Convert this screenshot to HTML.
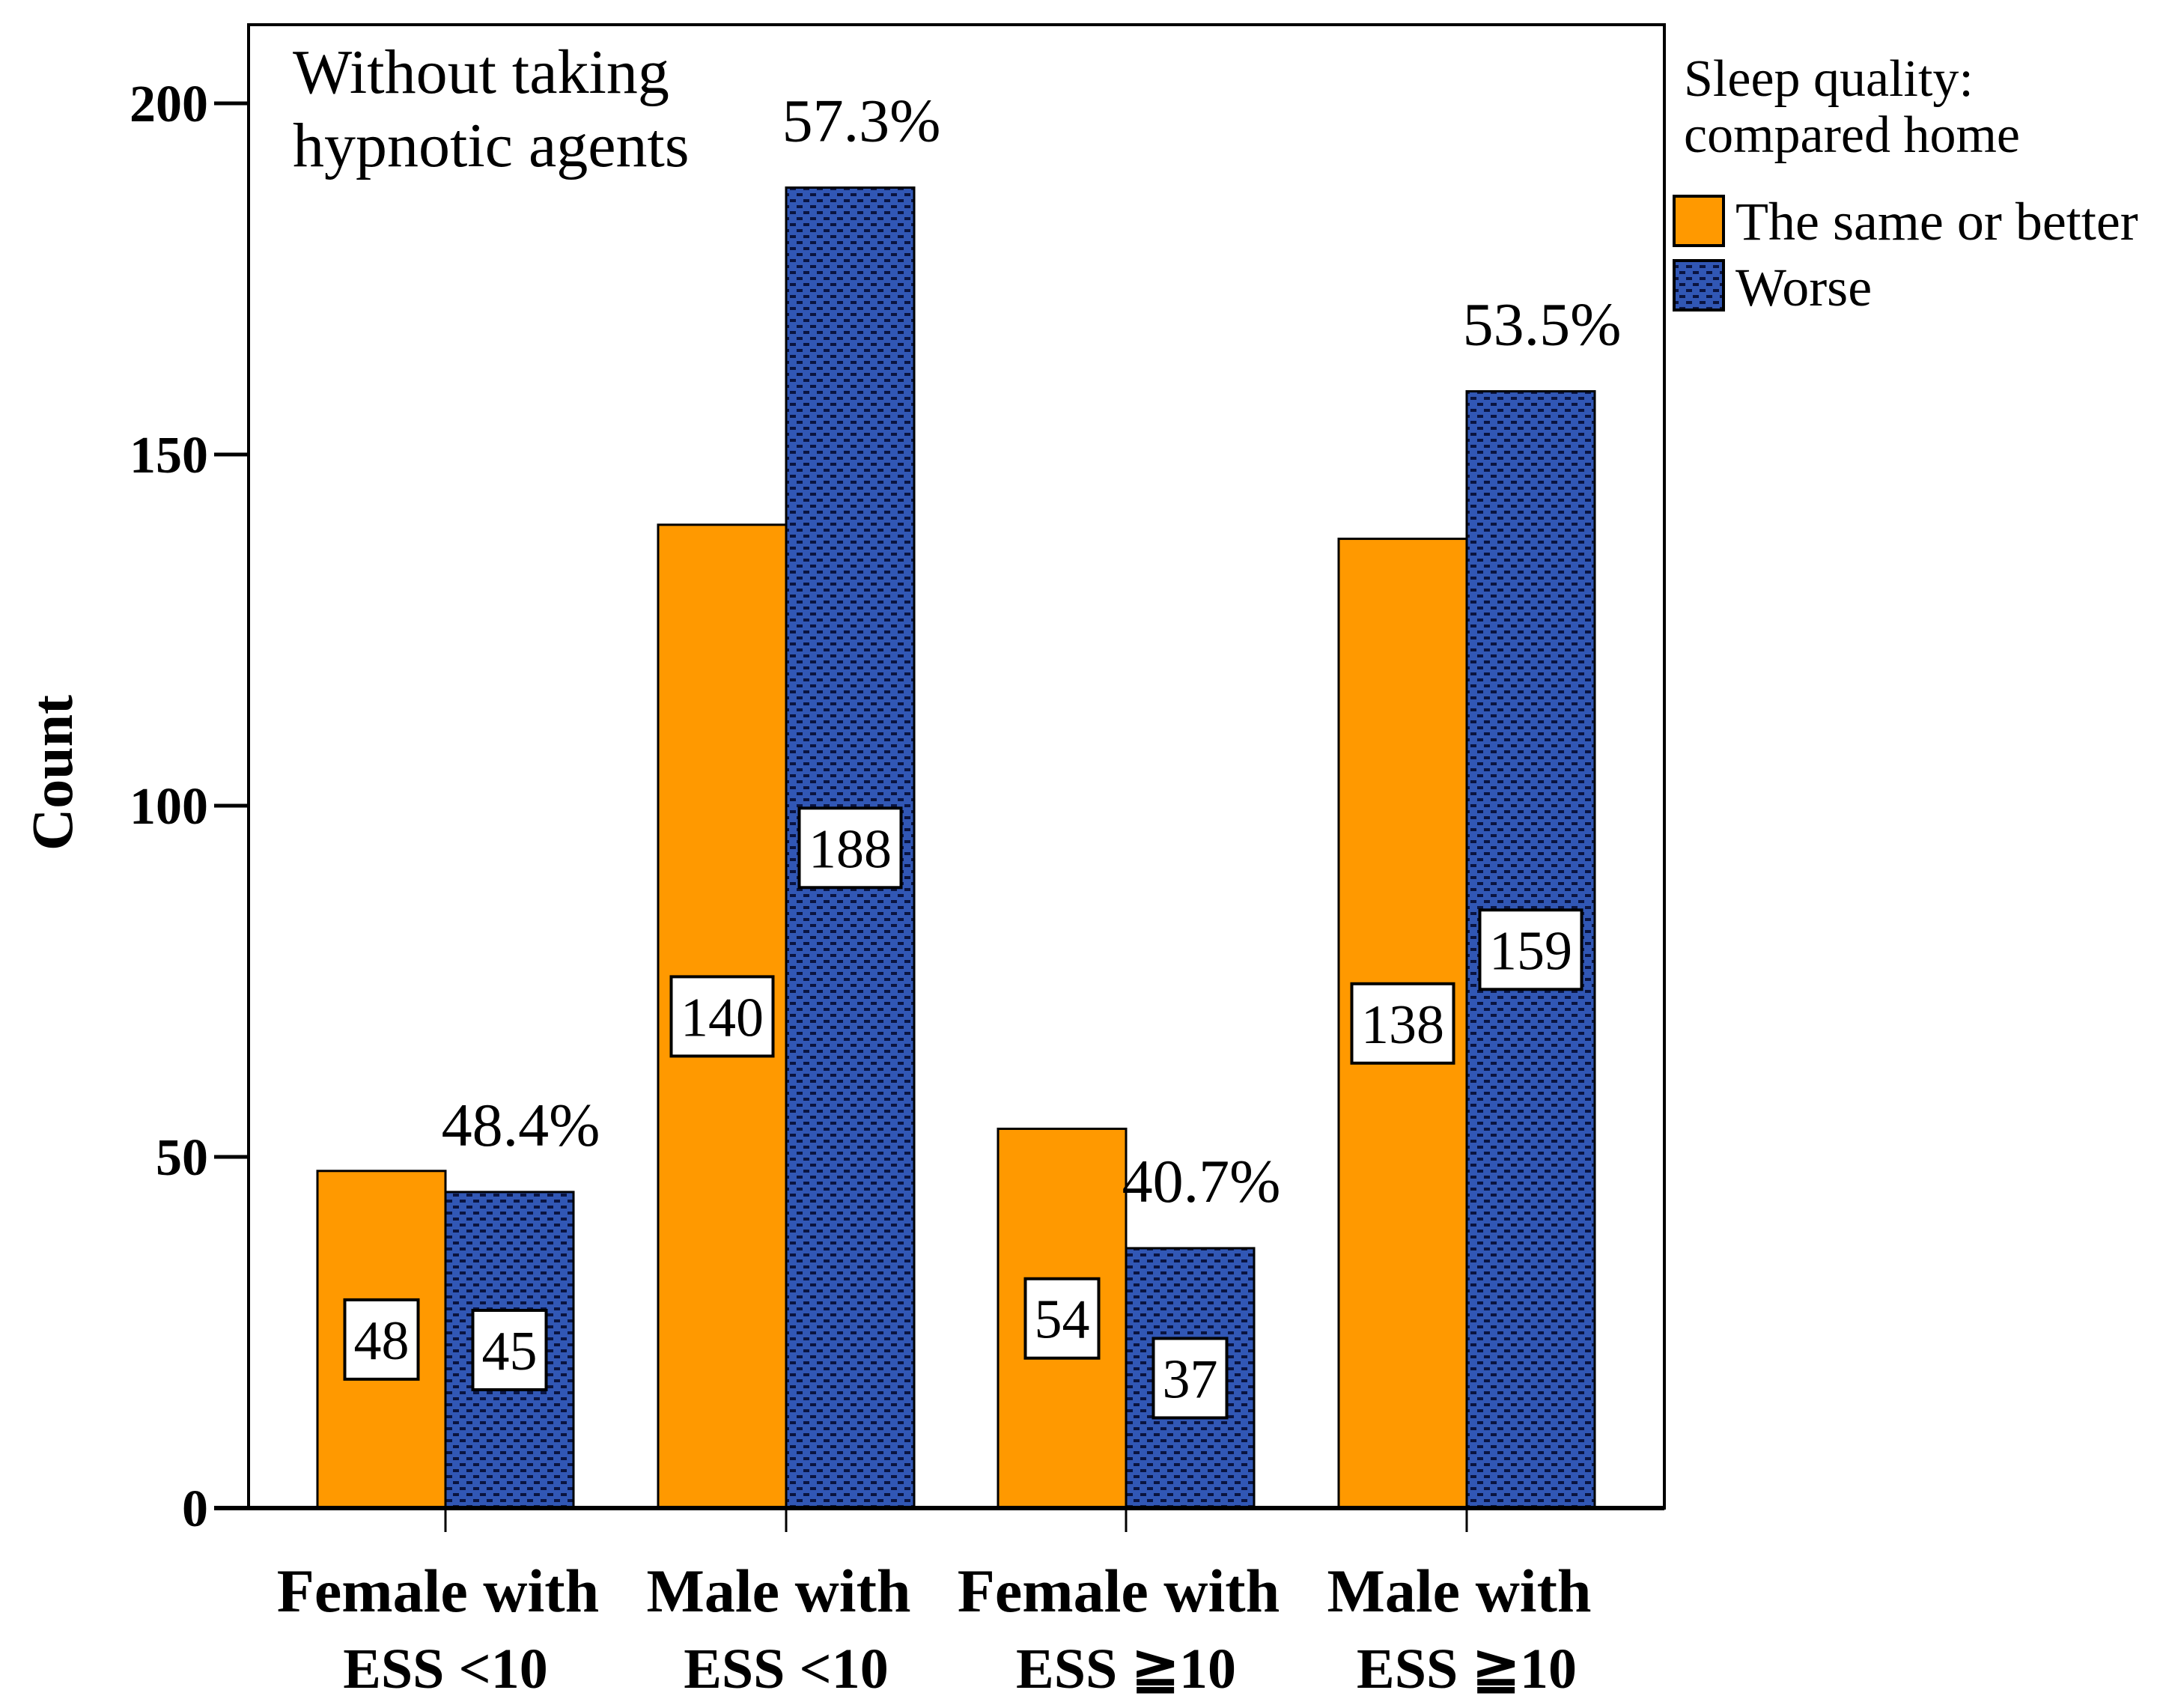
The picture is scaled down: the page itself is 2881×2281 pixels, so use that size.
<!DOCTYPE html>
<html><head><meta charset="utf-8"><style>
html,body{margin:0;padding:0;background:#fff}
svg{display:block}
text{font-family:"Liberation Serif",serif;fill:#000}
</style></head><body>
<svg id="chart" width="2881" height="2281" viewBox="0 0 2881 2281" xmlns="http://www.w3.org/2000/svg">
<defs>
<pattern id="dots" patternUnits="userSpaceOnUse" width="18" height="16">
<rect width="18" height="16" fill="#3157b5"/>
<rect x="2" y="2" width="8" height="4" fill="#0a1440"/>
<rect x="11" y="10" width="8" height="4" fill="#0a1440"/>
<rect x="-7" y="10" width="8" height="4" fill="#0a1440"/>
</pattern>
</defs>
<g id="plot"></g>
</svg>
<script>
const categories1 = ["Female with","Male with","Female with","Male with"];
const categories2 = ["ESS \u003c10","ESS \u003c10","ESS \u226710","ESS \u226710"];
const sameOrBetter = [48,140,54,138];
const worse = [45,188,37,159];
const percentLabels = ["48.4%","57.3%","40.7%","53.5%"];
const yTicks = [0,50,100,150,200];

const NS="http://www.w3.org/2000/svg";
const g=document.getElementById('plot');
const X0=332,X1=2223,Y0=2014,PPU=469/50,TOP=33;
const centers=[595,1050,1504,1959];
const BW=171;
function y(v){return Y0-v*PPU;}
function mk(tag,attrs,txt){const e=document.createElementNS(NS,tag);for(const k in attrs)e.setAttribute(k,attrs[k]);if(txt!==undefined)e.textContent=txt;g.appendChild(e);return e;}

let e=mk('rect',{x:X0,y:TOP,width:X1-X0,height:Y0-TOP,fill:'#fff',stroke:'#000','stroke-width':4});



yTicks.forEach(t=>{
  let l=mk('line',{x1:286,x2:X0,y1:y(t),y2:y(t),stroke:'#000','stroke-width':5});
  
  
  let tx=mk('text',{x:278,y:y(t)+24,'text-anchor':'end','font-size':70,'font-weight':'bold'},t);
  
  
});

centers.forEach((c,i)=>{
  let b1=mk('rect',{x:c-BW,y:y(sameOrBetter[i]),width:BW,height:sameOrBetter[i]*PPU,fill:'#ff9900',stroke:'#000','stroke-width':3});
  
  
  let b2=mk('rect',{x:c,y:y(worse[i]),width:BW,height:worse[i]*PPU,fill:'url(#dots)',stroke:'#000','stroke-width':3});
  
  
  [[c-BW/2,sameOrBetter[i],'same'],[c+BW/2,worse[i],'worse']].forEach(([cx,v,s])=>{
    const w=String(v).length>2?136:98;
    let r=mk('rect',{x:cx-w/2,y:y(v/2)-53,width:w,height:106,fill:'#fff',stroke:'#000','stroke-width':4});
    
    
    let t=mk('text',{x:cx,y:y(v/2)+26,'text-anchor':'middle','font-size':74},v);
    
    
  });
  let p=mk('text',{x:c+BW/2+15,y:y(worse[i])-62,'text-anchor':'middle','font-size':82},percentLabels[i]);
  
  
  let tk=mk('line',{x1:c,x2:c,y1:Y0,y2:2046,stroke:'#000','stroke-width':3});
  
  
  let l1=mk('text',{x:c-10,y:2152,'text-anchor':'middle','font-size':82,'font-weight':'bold'},categories1[i]);
  
  
  let l2=mk('text',{x:c,y:2254,'text-anchor':'middle','font-size':76,'font-weight':'bold'},categories2[i]);
  
  
});
let ax=mk('line',{x1:286,x2:X1,y1:Y0,y2:Y0,stroke:'#000','stroke-width':6});


</script>
<svg style="position:absolute;left:0;top:0" width="2881" height="2281" xmlns="http://www.w3.org/2000/svg">
<text x="0" y="0" transform="translate(96,1032) rotate(-90)" text-anchor="middle" font-size="78" font-weight="bold">Count</text>
<text x="391" y="124" font-size="84">Without taking</text>
<text x="391" y="222" font-size="84">hypnotic agents</text>
<text x="2249" y="128" font-size="70">Sleep quality:</text>
<text x="2249" y="203" font-size="70">compared home</text>
<rect x="2236" y="262" width="66" height="66" fill="#ff9900" stroke="#000" stroke-width="4"/>
<text x="2318" y="320" font-size="72">The same or better</text>
<rect x="2236" y="348" width="66" height="66" fill="url(#dots)" stroke="#000" stroke-width="4"/>
<text x="2318" y="408" font-size="72">Worse</text>
</svg>
</body></html>
